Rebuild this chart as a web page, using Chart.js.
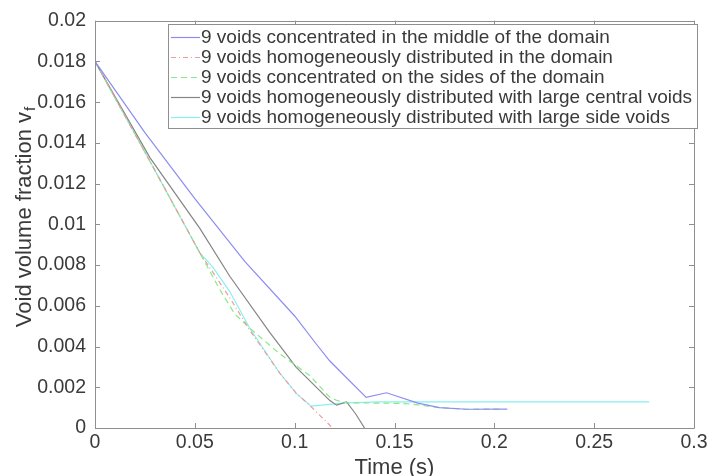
<!DOCTYPE html>
<html><head><meta charset="utf-8">
<script src="https://cdn.jsdelivr.net/npm/chart.js@4.4.1/dist/chart.umd.min.js"></script>
<style>html,body{margin:0;padding:0;background:#fff}#wrap{width:711px;height:476px}</style>
</head><body><div id="wrap"><canvas id="c" width="711" height="476"></canvas></div>
<script>
const labels = [
  "9 voids concentrated in the middle of the domain",
  "9 voids homogeneously distributed in the domain",
  "9 voids concentrated on the sides of the domain",
  "9 voids homogeneously distributed with large central voids",
  "9 voids homogeneously distributed with large side voids"
];
const middleX = [0, 0.025, 0.05, 0.075, 0.1, 0.111, 0.1175, 0.1358, 0.146, 0.1617, 0.1725, 0.186, 0.2065];
const middleY = [0.018, 0.0145, 0.01126, 0.00818, 0.0055, 0.0041, 0.0033, 0.0015, 0.00173, 0.00122, 0.001, 0.00092, 0.00093];
const homogX = [0, 0.0275, 0.0525, 0.0675, 0.0775, 0.0925, 0.1008, 0.108, 0.119];
const homogY = [0.018, 0.0131, 0.0086, 0.0064, 0.0048, 0.0027, 0.0017, 0.00107, 0];
const sidesX = [0, 0.0275, 0.0525, 0.0625, 0.07, 0.0775, 0.0925, 0.1075, 0.1175, 0.121, 0.126, 0.145, 0.155, 0.1617, 0.1725, 0.186, 0.204];
const sidesY = [0.018, 0.0131, 0.0086, 0.0068, 0.0056, 0.0049, 0.00364, 0.00258, 0.00152, 0.00136, 0.00124, 0.00122, 0.0012, 0.00114, 0.001, 0.00092, 0.00093];
const centralX = [0, 0.0275, 0.0525, 0.0675, 0.0875, 0.1008, 0.1175, 0.121, 0.126, 0.1305, 0.135];
const centralY = [0.018, 0.01328, 0.0098, 0.00745, 0.0047, 0.00298, 0.00136, 0.00112, 0.00128, 0.0007, 0];
const sideVoidX = [0, 0.0275, 0.0525, 0.059, 0.0675, 0.0775, 0.0925, 0.1008, 0.1083, 0.119, 0.126, 0.1425, 0.2, 0.2775];
const sideVoidY = [0.018, 0.0131, 0.0086, 0.0079, 0.0067, 0.0049, 0.0027, 0.0017, 0.00107, 0.00117, 0.00123, 0.00128, 0.00128, 0.00128];
const xTicks = [0, 0.05, 0.1, 0.15, 0.2, 0.25, 0.3];
const yTicks = [0, 0.002, 0.004, 0.006, 0.008, 0.01, 0.012, 0.014, 0.016, 0.018, 0.02];

const zip = (xs, ys) => xs.map((x, i) => ({x: x, y: ys[i]}));
const styles = [
  {c: '#8c8cf2', d: []},
  {c: '#f29a9a', d: [5, 3, 1, 3]},
  {c: '#86ea86', d: [6, 4]},
  {c: '#858585', d: []},
  {c: '#88f0f0', d: []}
];
const series = [zip(middleX, middleY), zip(homogX, homogY), zip(sidesX, sidesY), zip(centralX, centralY), zip(sideVoidX, sideVoidY)];
const datasets = series.map((d, i) => ({
  label: labels[i], data: d, borderColor: styles[i].c, borderDash: styles[i].d,
  borderWidth: 1.2, pointRadius: 0, tension: 0, fill: false
}));

const FONT = '"Liberation Sans", Arial, sans-serif';
const TXT = '#3a3a3a';
const AX = '#8f8f8f';

const decor = {
  id: 'decor',
  afterDraw(chart) {
    const ctx = chart.ctx, a = chart.chartArea;
    const xs = chart.scales.x, ys = chart.scales.y;
    ctx.save();
    ctx.strokeStyle = AX; ctx.lineWidth = 1;
    ctx.beginPath();
    ctx.rect(Math.round(a.left) + 0.5, Math.round(a.top) + 0.5, Math.round(a.right - a.left), Math.round(a.bottom - a.top));
    ctx.stroke();
    const tl = 5;
    ctx.beginPath();
    xTicks.forEach(v => {
      const p = Math.round(xs.getPixelForValue(v)) + 0.5;
      ctx.moveTo(p, a.bottom); ctx.lineTo(p, a.bottom - tl);
      ctx.moveTo(p, a.top); ctx.lineTo(p, a.top + tl);
    });
    yTicks.forEach(v => {
      const p = Math.round(ys.getPixelForValue(v)) + 0.5;
      ctx.moveTo(a.left, p); ctx.lineTo(a.left + tl, p);
      ctx.moveTo(a.right, p); ctx.lineTo(a.right - tl, p);
    });
    ctx.stroke();

    // x title
    ctx.fillStyle = TXT;
    ctx.font = '22px ' + FONT;
    ctx.textAlign = 'center';
    ctx.textBaseline = 'alphabetic';
    ctx.fillText('Time (s)', (a.left + a.right) / 2, 474);

    // y title with subscript
    ctx.save();
    ctx.translate(31, 217);
    ctx.rotate(-Math.PI / 2);
    ctx.font = '22px ' + FONT;
    const main = 'Void volume fraction v';
    const wm = ctx.measureText(main).width;
    ctx.font = '15px ' + FONT;
    const ws = ctx.measureText('f').width;
    const tot = wm + ws + 1;
    ctx.textAlign = 'left';
    ctx.textBaseline = 'alphabetic';
    ctx.font = '22px ' + FONT;
    ctx.fillText(main, -tot / 2, 0);
    ctx.font = '15px ' + FONT;
    ctx.fillText('f', -tot / 2 + wm + 1, 4);
    ctx.restore();
    ctx.restore();

    // legend
    ctx.save();
    const lx = 168, ly = 24, lw = 529, lh = 104;
    ctx.fillStyle = '#fff';
    ctx.fillRect(lx, ly, lw, lh);
    ctx.strokeStyle = AX; ctx.lineWidth = 1;
    ctx.strokeRect(lx + 0.5, ly + 0.5, lw, lh);
    ctx.font = '19px ' + FONT;
    ctx.textBaseline = 'middle';
    ctx.textAlign = 'left';
    chart.data.datasets.forEach((ds, i) => {
      const y = ly + 12.5 + i * 20;
      ctx.strokeStyle = ds.borderColor;
      ctx.setLineDash(ds.borderDash);
      ctx.lineWidth = 1.2;
      ctx.beginPath(); ctx.moveTo(171, Math.round(y) + 0.5); ctx.lineTo(200, Math.round(y) + 0.5); ctx.stroke();
      ctx.setLineDash([]);
      ctx.fillStyle = TXT;
      ctx.fillText(ds.label, 201, y + 1);
    });
    ctx.restore();
  }
};

new Chart(document.getElementById('c'), {
  type: 'line',
  data: {datasets: datasets},
  options: {
    responsive: false, animation: false,
    layout: {padding: {top: 17, right: 17, left: 0, bottom: 0}},
    plugins: {legend: {display: false}, tooltip: {enabled: false}},
    scales: {
      x: {
        type: 'linear', min: 0, max: 0.3,
        afterBuildTicks: s => { s.ticks = xTicks.map(v => ({value: v})); },
        afterFit: s => { s.height = 48; },
        grid: {display: false, drawTicks: false}, border: {display: false},
        ticks: {color: TXT, font: {family: FONT, size: 19.5}, padding: 3, maxRotation: 0, autoSkip: false,
          callback: v => String(Number(v.toFixed(3)))}
      },
      y: {
        type: 'linear', min: 0, max: 0.02,
        afterBuildTicks: s => { s.ticks = yTicks.map(v => ({value: v})); },
        afterFit: s => { s.width = 95; },
        grid: {display: false, drawTicks: false}, border: {display: false},
        ticks: {color: TXT, font: {family: FONT, size: 19.5}, padding: 9, autoSkip: false,
          callback: v => String(Number(v.toFixed(4)))}
      }
    }
  },
  plugins: [decor]
});
</script></body></html>
